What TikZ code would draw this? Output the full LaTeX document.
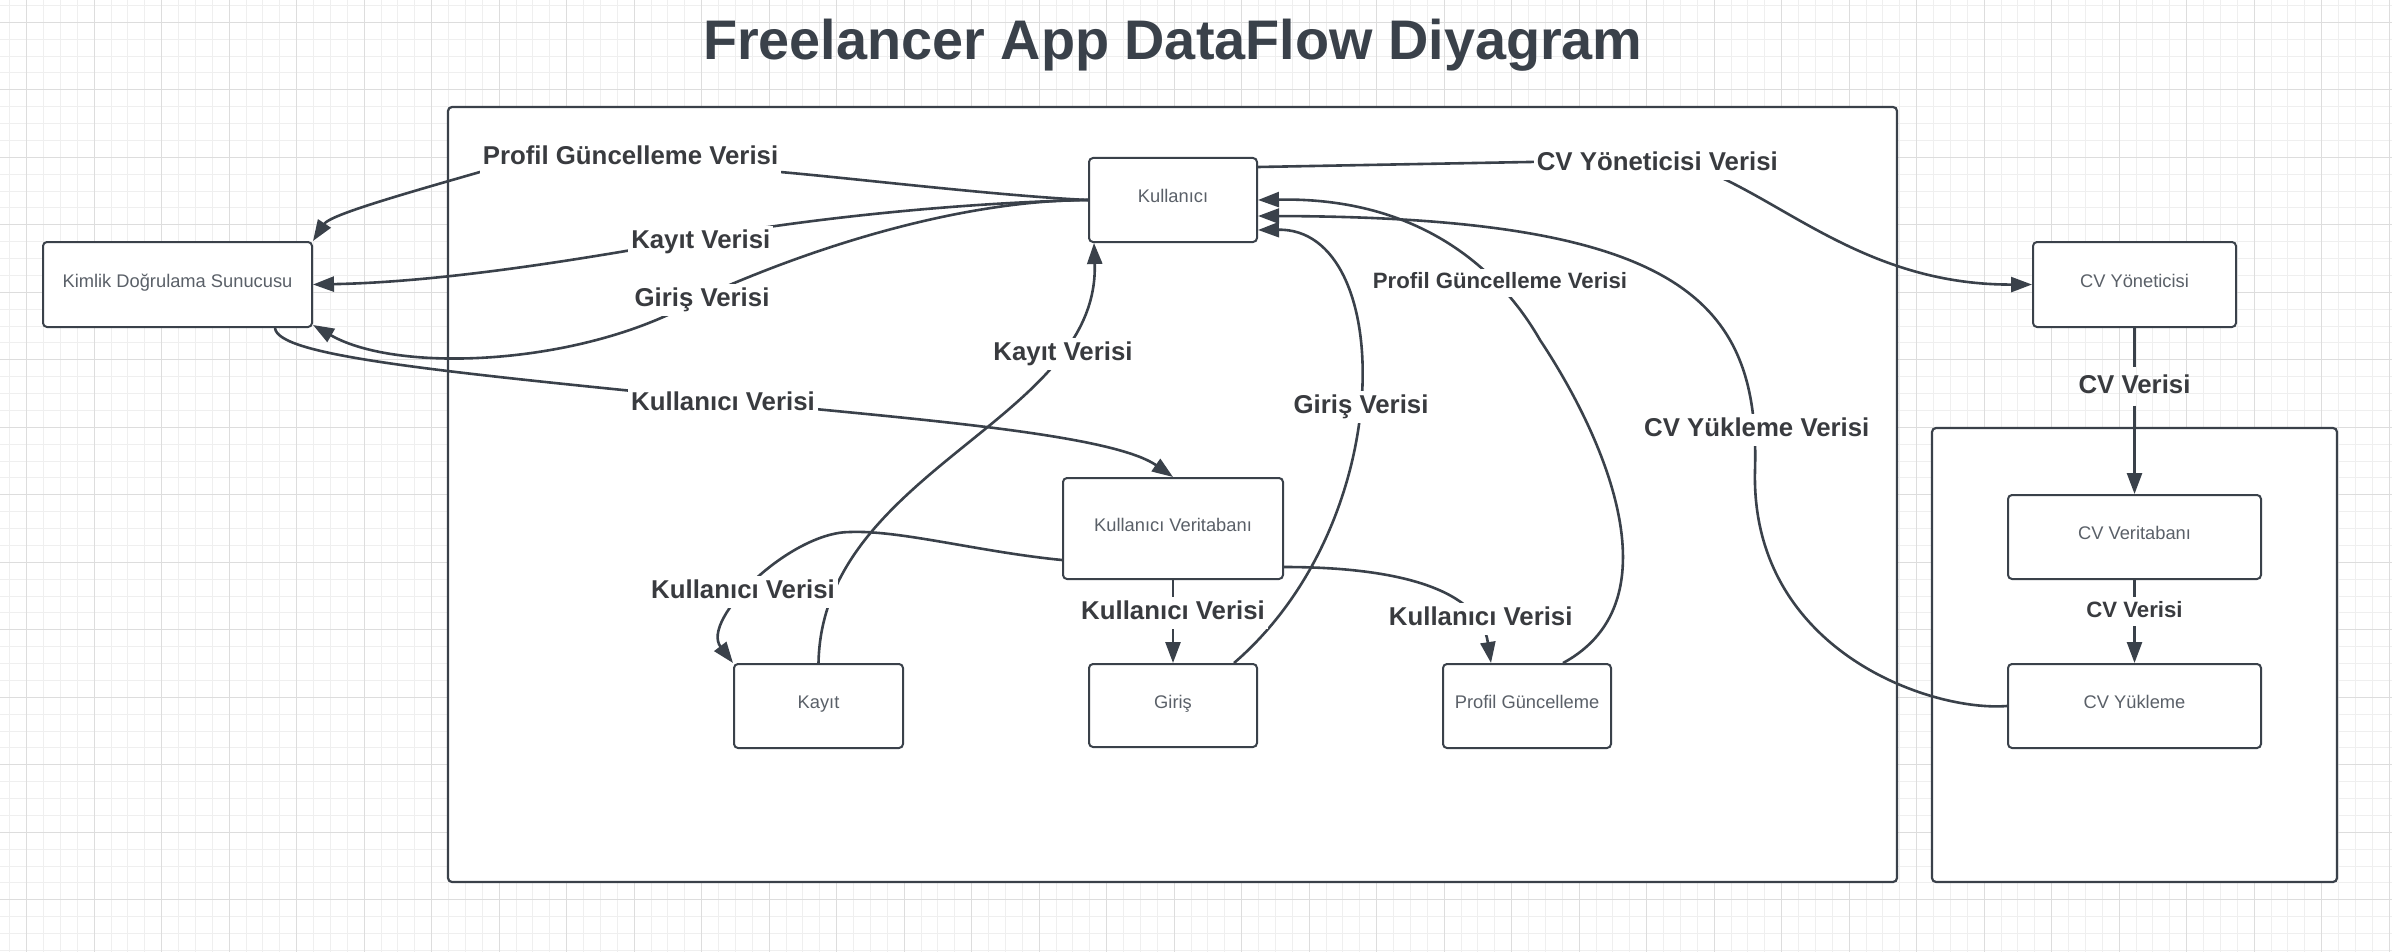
\documentclass[tikz,border=0pt]{standalone}
\usepackage{fontspec}
\setmainfont{Liberation Sans}
\usetikzlibrary{arrows.meta,calc}
\definecolor{edgec}{HTML}{3A414A}
\definecolor{ntext}{HTML}{5A6068}
\definecolor{ltext}{HTML}{393B3F}
\definecolor{gmin}{HTML}{EFEFEF}
\definecolor{gmaj}{HTML}{DDDDDD}
\tikzset{
  proc/.style={draw=edgec, line width=2pt, rounded corners=4pt, fill=white, text=ntext,
    font=\fontsize{18.3}{21}\selectfont, inner sep=0pt, text height=13pt, text depth=8pt},
  cont/.style={draw=edgec, line width=2.2pt, rounded corners=4pt, fill=white, inner sep=0pt},
  flow/.style={draw=edgec, line width=2.6pt, -{Triangle[length=21pt,width=15pt]}},
  flowplain/.style={draw=edgec, line width=2.6pt},
  lab/.style={font=\bfseries\fontsize{25.8}{30}\selectfont, text=ltext, fill=white,
    inner sep=3pt, text height=19.5pt, text depth=6.5pt, anchor=base},
  labs/.style={lab, font=\bfseries\fontsize{22.2}{26}\selectfont, text height=16.8pt, text depth=5.6pt},
  gridminor/.style={draw=gmin, line width=1pt},
  gridmajor/.style={draw=gmaj, line width=1.2pt}
}
\begin{document}
\begin{tikzpicture}[x=1pt,y=-1pt]
\useasboundingbox (0,0) rectangle (2392,952);
\fill[white] (0,0) rectangle (2392,952);
% grid
\foreach \j in {-1,...,140} { \draw[gridminor] ({26.7+16.875*\j},0) -- ({26.7+16.875*\j},952); }
\foreach \j in {-1,...,55} { \draw[gridminor] (0,{22.3+16.875*\j}) -- (2392,{22.3+16.875*\j}); }
\foreach \j in {0,...,35} { \draw[gridmajor] ({26.7+67.5*\j},0) -- ({26.7+67.5*\j},952); }
\foreach \j in {0,...,13} { \draw[gridmajor] (0,{22.3+67.5*\j}) -- (2392,{22.3+67.5*\j}); }

% title
\node[font=\bfseries\fontsize{55.8}{60}\selectfont, text=edgec, anchor=base, inner sep=0pt] (title) at (1172.8,59.3) {Freelancer App DataFlow Diyagram};

% containers
\node[cont, minimum width=1449pt, minimum height=775pt] (c1) at (1172.5,494.5) {};
\node[cont, minimum width=405pt, minimum height=454pt] (c2) at (2134.5,655) {};

% processes
\node[proc, minimum width=269pt, minimum height=85pt] (kim) at (177.5,284.5) {Kimlik Doğrulama Sunucusu};
\node[proc, minimum width=168pt, minimum height=84pt] (kull) at (1173,200) {Kullanıcı};
\node[proc, minimum width=220pt, minimum height=101pt] (kv) at (1173,528.5) {Kullanıcı Veritabanı};
\node[proc, minimum width=169pt, minimum height=84pt] (kayit) at (818.5,706) {Kayıt};
\node[proc, minimum width=168pt, minimum height=83pt] (giris) at (1173,705.5) {Giriş};
\node[proc, minimum width=168pt, minimum height=84pt] (prof) at (1527,706) {Profil Güncelleme};
\node[proc, minimum width=203pt, minimum height=85pt] (cvy) at (2134.5,284.5) {CV Yöneticisi};
\node[proc, minimum width=253pt, minimum height=84pt] (cvdb) at (2134.5,537) {CV Veritabanı};
\node[proc, minimum width=253pt, minimum height=84pt] (cvu) at (2134.5,706) {CV Yükleme};

% connectors
\draw[flow] (kull.west) .. controls (1000,196) and (850,178) .. (780,172)
  .. controls (700,160) and (560,160) .. (480,172)
  .. controls (400,195) and (330,215) .. (kim.north east);
\draw[flow] (kull.west) .. controls (950,203) and (800,220) .. (700,238)
  .. controls (600,256) and (450,282) .. (kim.east);
\draw[flow] (kull.west) .. controls (980,200) and (840,235) .. (702,297)
  .. controls (590,365) and (400,375) .. ([yshift=3pt]kim.south east);
\draw[flow] ([xshift=97.5pt]kim.south) .. controls (278,355) and (420,370) .. (723,400)
  .. controls (900,418) and (1110,433) .. (kv.north);
\draw[flow] (kayit.north) .. controls (822,470) and (1100,420) .. ([xshift=-79pt]kull.south);
\draw[flow] ([yshift=-31.5pt]kv.west) .. controls (980,552) and (900,530) .. (850,532)
  .. controls (790,532) and (700,620) .. (kayit.north west);
\draw[flow] (kv.south) -- (giris.north);
\draw[flow] ([yshift=-38.5pt]kv.east) .. controls (1400,567) and (1480,590) .. ([xshift=-36pt]prof.north);
\draw[flow] ([xshift=61pt]giris.north) .. controls (1400,520) and (1395,228) .. ([yshift=-30pt]kull.east);
\draw[flow] ([xshift=36pt]prof.north) .. controls (1680,600) and (1600,430) .. (1540,340)
  .. controls (1500,270) and (1420,197) .. (kull.east);
\draw[flow] (cvu.west) .. controls (1930,712) and (1750,650) .. (1755,470)
  .. controls (1760,300) and (1680,217) .. ([yshift=-16pt]kull.east);
\draw[flow] ([yshift=33pt]kull.east) -- (1610,160.5) .. controls (1680,160) and (1700,170) .. (1722,178)
  .. controls (1800,215) and (1880,285) .. (cvy.west);
\node[lab, fill=none, inner ysep=6pt] (l10) at (2134.5,393) {CV Verisi};
\draw[flowplain] (cvy.south) -- (l10.north);
\draw[flow] (l10.south) -- (cvdb.north);
\draw[flow] (cvdb.south) -- (cvu.north);

% labels
\node[lab] (l1) at (630.5,165) {Profil Güncelleme Verisi};
\node[lab] (l2) at (1657.3,170.3) {CV Yöneticisi Verisi};
\node[lab] (l3) at (700.8,248.5) {Kayıt Verisi};
\node[lab] (l4) at (702,306.8) {Giriş Verisi};
\node[lab] (l5) at (723,410) {Kullanıcı Verisi};
\node[lab] (l6) at (1063,360) {Kayıt Verisi};
\node[labs] (l7) at (1500,288.3) {Profil Güncelleme Verisi};
\node[lab] (l8) at (1361,413.3) {Giriş Verisi};
\node[lab] (l9) at (1756.8,436.7) {CV Yükleme Verisi};
\node[labs] (l11) at (2134.5,617) {CV Verisi};
\node[lab] (l12) at (743,598.5) {Kullanıcı Verisi};
\node[lab] (l13) at (1173,619.3) {Kullanıcı Verisi};
\node[lab] (l14) at (1480.7,625.5) {Kullanıcı Verisi};
\end{tikzpicture}
\end{document}
